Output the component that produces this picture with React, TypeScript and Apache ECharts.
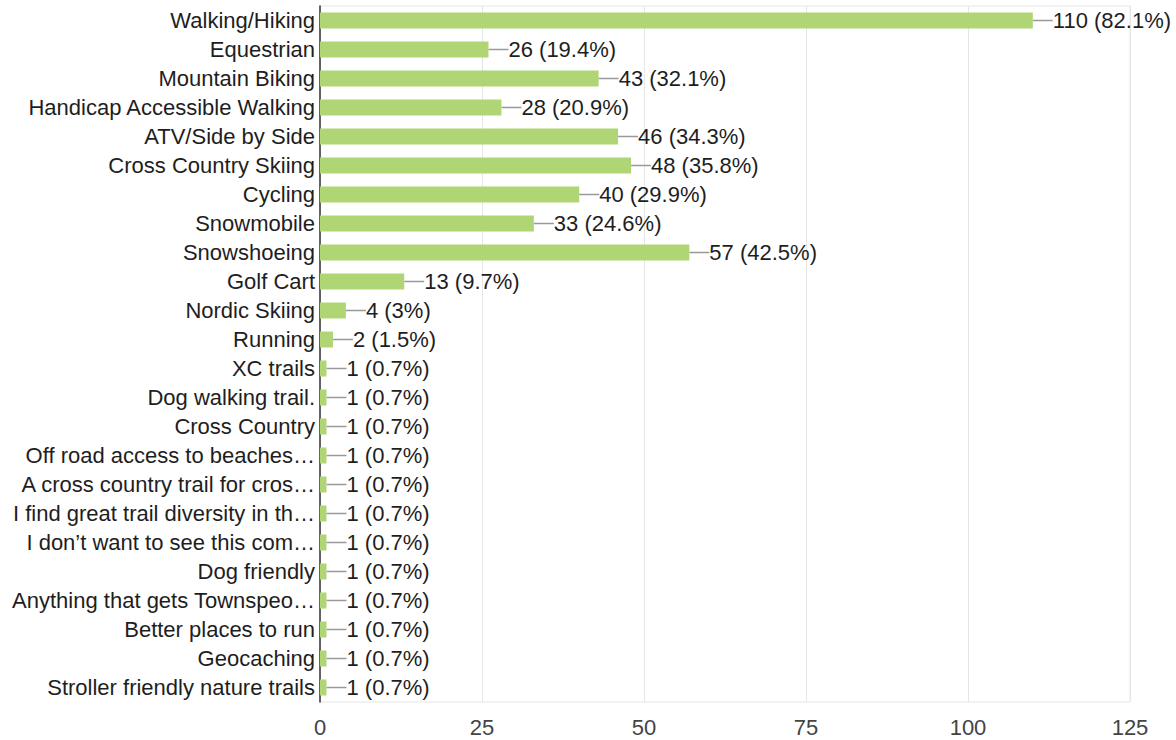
import React, { useEffect, useRef } from "react";
import * as echarts from "echarts";

const categories = [
  "Walking/Hiking",
  "Equestrian",
  "Mountain Biking",
  "Handicap Accessible Walking",
  "ATV/Side by Side",
  "Cross Country Skiing",
  "Cycling",
  "Snowmobile",
  "Snowshoeing",
  "Golf Cart",
  "Nordic Skiing",
  "Running",
  "XC trails",
  "Dog walking trail.",
  "Cross Country",
  "Off road access to beaches…",
  "A cross country trail for cros…",
  "I find great trail diversity in th…",
  "I don’t want to see this com…",
  "Dog friendly",
  "Anything that gets Townspeo…",
  "Better places to run",
  "Geocaching",
  "Stroller friendly nature trails",
];

const counts = [110, 26, 43, 28, 46, 48, 40, 33, 57, 13, 4, 2, 1, 1, 1, 1, 1, 1, 1, 1, 1, 1, 1, 1];
const percents = ["82.1", "19.4", "32.1", "20.9", "34.3", "35.8", "29.9", "24.6", "42.5", "9.7", "3", "1.5",
  "0.7", "0.7", "0.7", "0.7", "0.7", "0.7", "0.7", "0.7", "0.7", "0.7", "0.7", "0.7"];

const FONT = "'Liberation Sans', Arial, Helvetica, sans-serif";

export default function App() {
  const ref = useRef<HTMLDivElement>(null);
  useEffect(() => {
    if (!ref.current) return;
    const chart = echarts.init(ref.current, null, { renderer: "svg" });
    chart.setOption({
      animation: false,
      grid: {
        left: 320,
        right: 46,
        top: 6,
        bottom: 38,
        show: true,
        borderColor: "#e6e6e6",
        borderWidth: 1,
        containLabel: false,
      },
      xAxis: {
        type: "value",
        min: 0,
        max: 125,
        interval: 25,
        axisLine: { show: false },
        axisTick: { show: false },
        splitLine: { show: true, lineStyle: { color: "#e6e6e6", width: 1 } },
        axisLabel: { color: "#444", fontSize: 22, fontFamily: FONT, margin: 14 },
      },
      yAxis: {
        type: "category",
        data: categories,
        inverse: true,
        axisLine: { show: true, lineStyle: { color: "#333", width: 1.5 } },
        axisTick: { show: false },
        axisLabel: { color: "#1e1e1e", fontSize: 22, fontFamily: FONT, margin: 5 },
      },
      series: [
        {
          type: "bar",
          data: counts,
          barWidth: "55%",
          itemStyle: { color: "#b0d574" },
          label: {
            show: true,
            position: "right",
            distance: 0,
            color: "#1e1e1e",
            fontSize: 22,
            fontFamily: FONT,
            formatter: (p: any) => `${p.value} (${percents[p.dataIndex]}%)`,
          },
          labelLayout: { dx: 20 },
          labelLine: { show: true, lineStyle: { color: "#999", width: 1.5 } },
        },
      ],
    });
    return () => chart.dispose();
  }, []);
  return (
    <div
      ref={ref}
      style={{ position: "fixed", left: 0, top: 0, width: 1176, height: 740, background: "#fff" }}
    />
  );
}
